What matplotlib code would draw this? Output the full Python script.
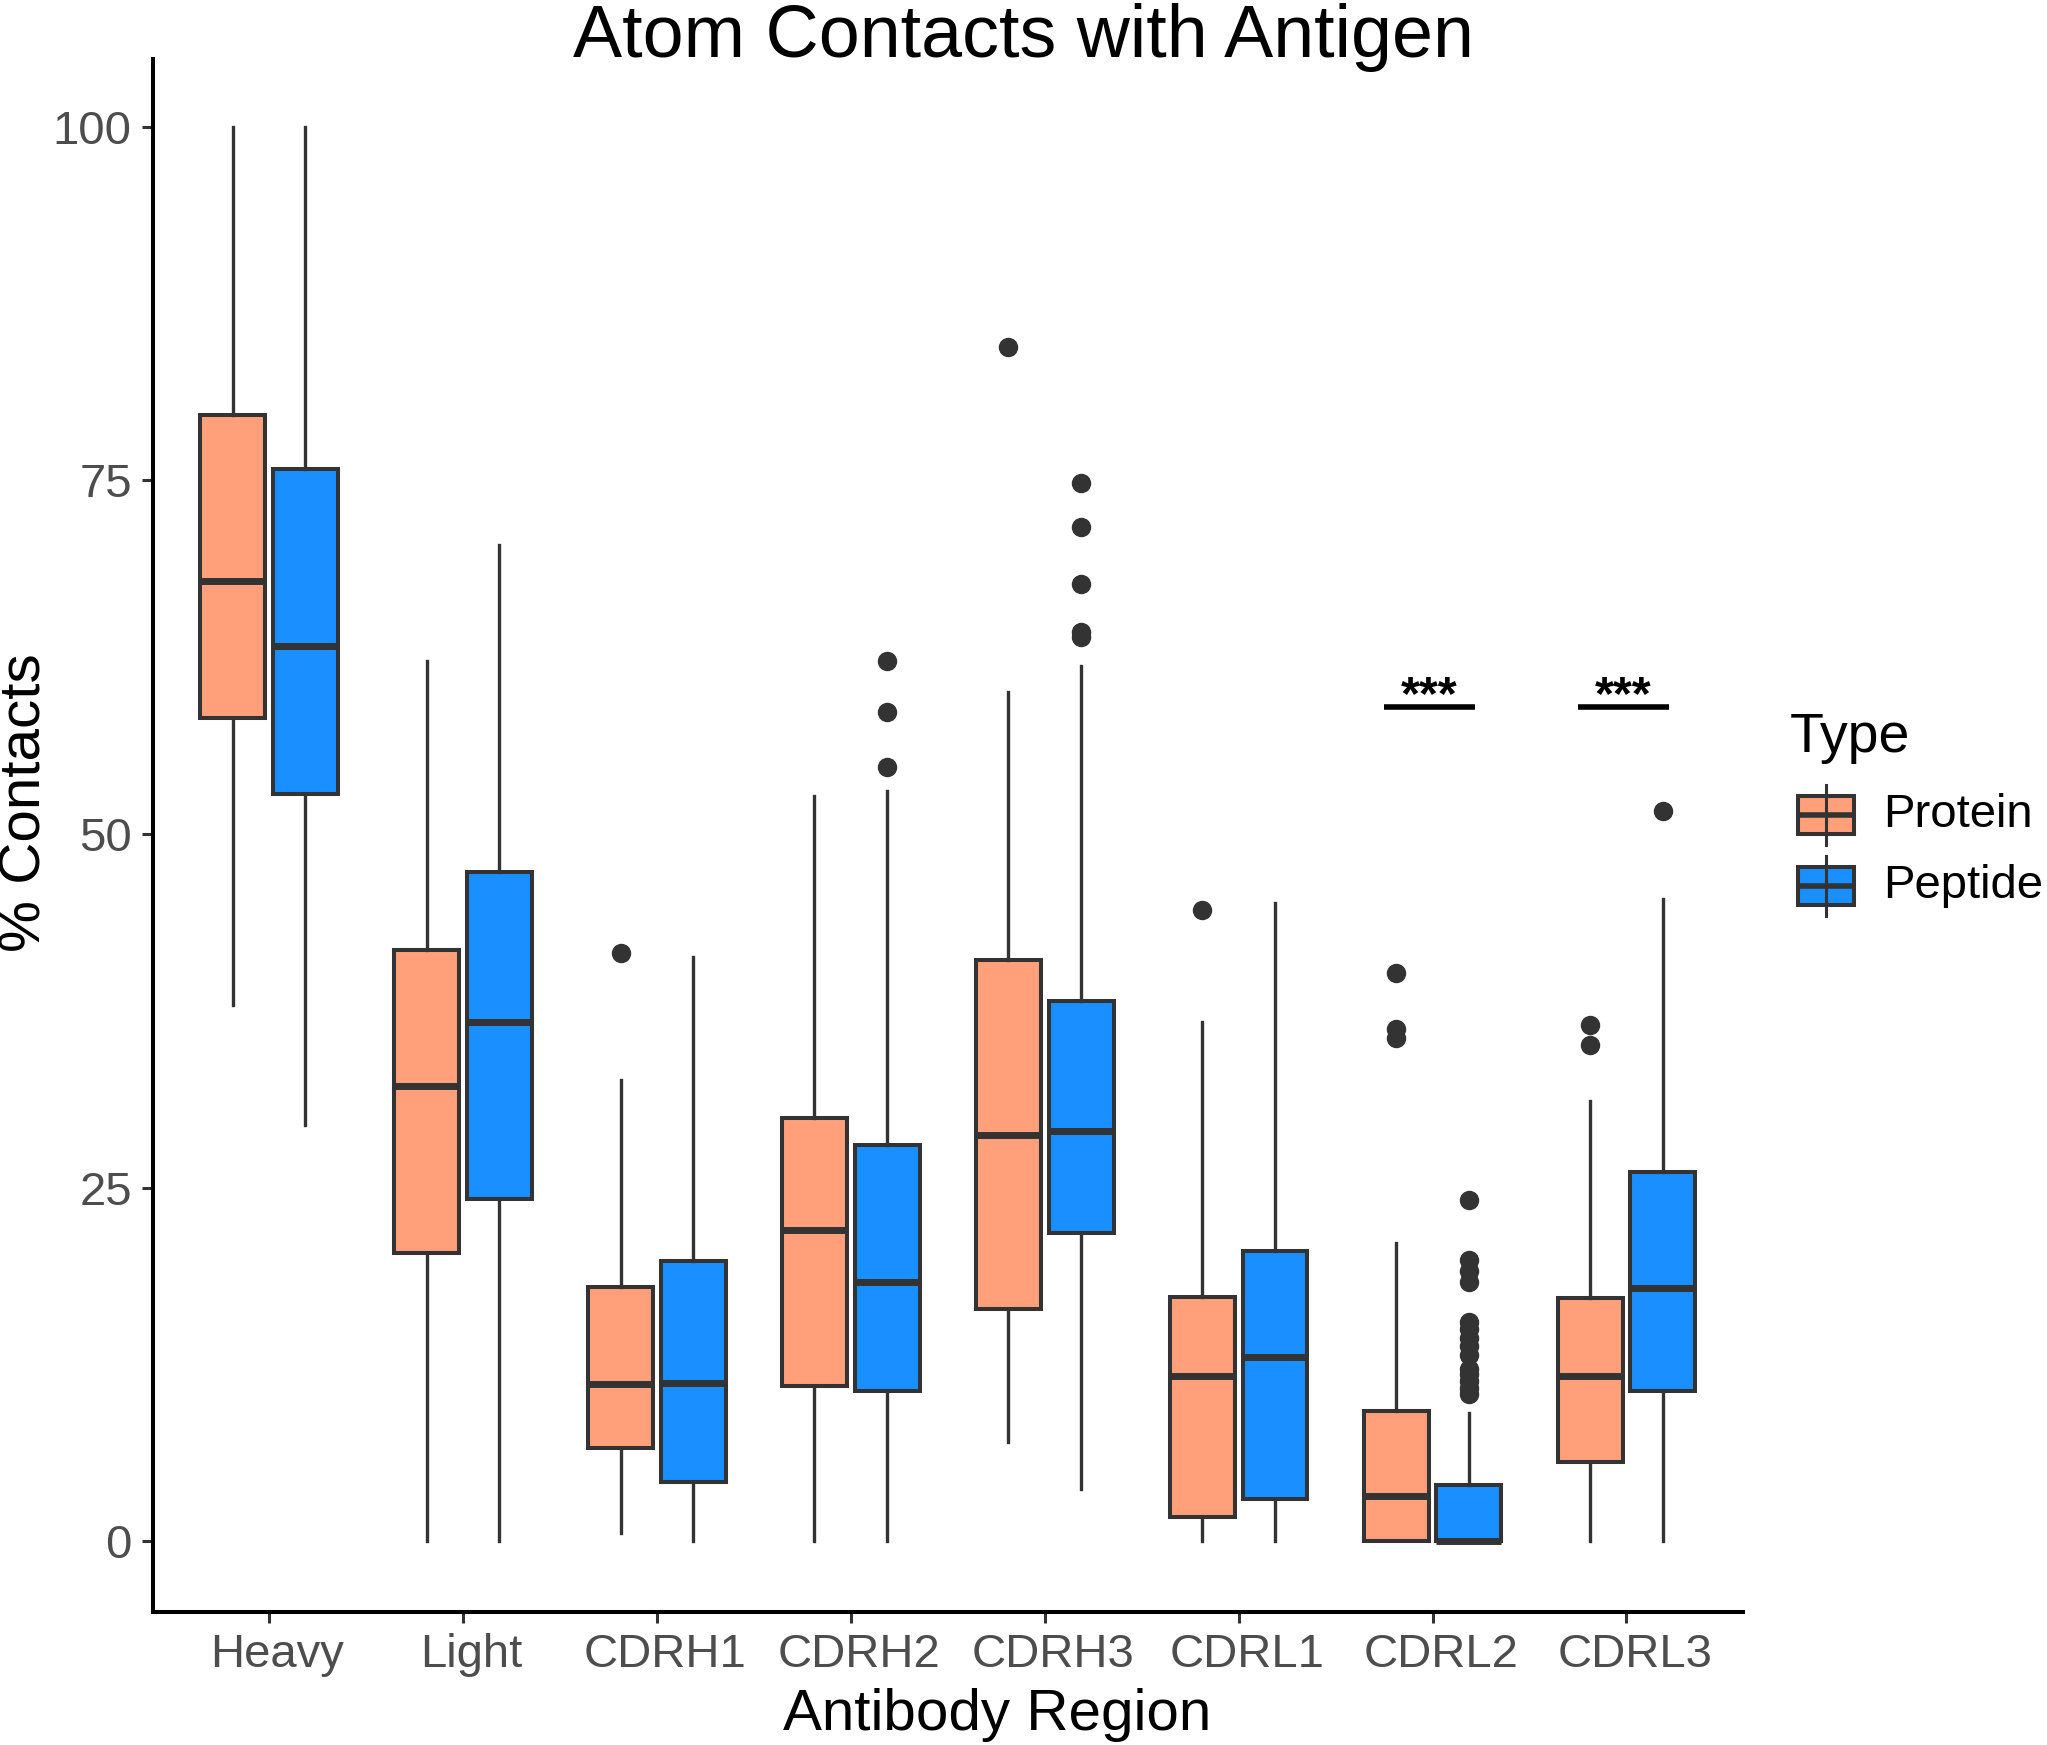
import numpy as np
import matplotlib
matplotlib.use('Agg')
import matplotlib.pyplot as plt
from matplotlib.patches import Rectangle
from matplotlib.transforms import ScaledTranslation

plt.rcParams['font.family'] = ['Liberation Sans', 'DejaVu Sans']

regions = ['Heavy', 'Light', 'CDRH1', 'CDRH2', 'CDRH3', 'CDRL1', 'CDRL2', 'CDRL3']
types = ['Protein', 'Peptide']
colors = ['#FFA07A', '#1A8FFF']

# box stats (% contacts)
protein_q1 = [58.2, 20.4, 6.6, 11.0, 16.4, 1.7, 0.0, 5.6]
protein_med = [67.9, 32.2, 11.1, 22.0, 28.7, 11.7, 3.2, 11.7]
protein_q3 = [79.6, 41.8, 18.0, 29.9, 41.1, 17.3, 9.2, 17.2]
protein_lo = [37.9, 0.0, 0.6, 0.0, 7.0, 0.0, 0.0, 0.0]
protein_hi = [100.0, 62.2, 32.6, 52.7, 60.0, 36.7, 21.1, 31.1]
protein_out = [[], [], [41.6], [], [84.4], [44.6], [40.2, 36.2, 35.6], [36.5, 35.1]]

peptide_q1 = [52.8, 24.2, 4.2, 10.6, 21.8, 3.0, 0.0, 10.6]
peptide_med = [63.3, 36.7, 11.2, 18.3, 29.0, 13.0, 0.0, 17.9]
peptide_q3 = [75.8, 47.3, 19.8, 28.0, 38.2, 20.5, 4.0, 26.1]
peptide_lo = [29.4, 0.0, 0.0, 0.0, 3.7, 0.0, 0.0, 0.0]
peptide_hi = [100.0, 70.4, 41.3, 53.0, 61.9, 45.1, 9.1, 45.4]
peptide_out = [[], [], [], [62.2, 58.6, 54.7], [74.8, 71.7, 67.7, 64.3, 63.9], [],
               [24.1, 19.9, 19.1, 18.3, 15.5, 15.0, 14.4, 13.8, 13.2, 12.2, 11.8, 11.3, 10.8, 10.4],
               [51.6]]

# significance annotations
sig_regions = ['CDRL2', 'CDRL3']
sig_y = [59.0, 59.0]
sig_label = '***'


def make_stats(q1, med, q3, lo, hi, out):
    return [dict(q1=a, med=b, q3=c, whislo=d, whishi=e, fliers=f)
            for a, b, c, d, e, f in zip(q1, med, q3, lo, hi, out)]


all_stats = [make_stats(protein_q1, protein_med, protein_q3, protein_lo, protein_hi, protein_out),
             make_stats(peptide_q1, peptide_med, peptide_q3, peptide_lo, peptide_hi, peptide_out)]

W, H = 2047, 1745
fig = plt.figure(figsize=(W / 100, H / 100), dpi=100)
ax = fig.add_axes([152.7 / W, 1 - 1612 / H, (1742.8 - 152.7) / W, (1612 - 58.7) / H])

x = np.arange(1, len(regions) + 1)
offsets = [-0.1875, 0.1875]
ink = '#333333'
for st, off, col in zip(all_stats, offsets, colors):
    ax.bxp(st, positions=x + off, widths=0.335, patch_artist=True, showcaps=False,
           manage_ticks=False,
           boxprops=dict(facecolor=col, edgecolor=ink, linewidth=2.9),
           medianprops=dict(color=ink, linewidth=5, solid_capstyle='butt'),
           whiskerprops=dict(color=ink, linewidth=2.4),
           flierprops=dict(marker='o', markerfacecolor=ink, markeredgecolor=ink, markersize=13))

for reg, yv in zip(sig_regions, sig_y):
    i = regions.index(reg) + 1
    ax.plot([i - 0.25, i + 0.22], [yv, yv], color='black', lw=4, solid_capstyle='butt')
    ax.text(i - 0.015, yv - 0.2, sig_label, ha='center', va='baseline', fontsize=35,
            fontweight='bold', color='black')

ax.set_xlim(0.4, 8.6)
ax.set_ylim(-5, 104.8)
ax.set_xticks(x)
ax.set_xticklabels(regions)
ax.set_yticks([0, 25, 50, 75, 100])
for s in ['top', 'right']:
    ax.spines[s].set_visible(False)
for s in ['left', 'bottom']:
    ax.spines[s].set_linewidth(2.9)
    ax.spines[s].set_color('black')
ax.tick_params(length=8, width=2.2, color=ink, labelsize=34, labelcolor='#4D4D4D', pad=7)
shift = ScaledTranslation(6 / 72, 0, fig.dpi_scale_trans)
for lab in ax.get_xticklabels():
    lab.set_transform(lab.get_transform() + shift)

fig.text(0.5, 1 - 57 / H, 'Atom Contacts with Antigen', ha='center', va='baseline', fontsize=53)
fig.text(997 / W, 1 - 1730 / H, 'Antibody Region', ha='center', va='baseline', fontsize=42)
fig.text(26 / W, 1 - 803 / H, '% Contacts', rotation=90, ha='center', va='center', fontsize=42)

# legend drawn in a pixel overlay
lax = fig.add_axes([0, 0, 1, 1], facecolor='none')
lax.set_xlim(0, W)
lax.set_ylim(H, 0)
lax.axis('off')
lax.text(1790, 752, 'Type', ha='left', va='baseline', fontsize=40)
for k, (name, col) in enumerate(zip(types, colors)):
    cy = 815 + k * 70.5
    lax.plot([1826, 1826], [cy - 30, cy + 30], color=ink, lw=2.2)
    lax.add_patch(Rectangle((1798, cy - 19), 56, 38, facecolor=col, edgecolor=ink, lw=2.9))
    lax.plot([1798, 1854], [cy, cy], color=ink, lw=4, solid_capstyle='butt')
    lax.text(1883, cy, name, ha='left', va='center', fontsize=34)

fig.savefig('out.png', dpi=100)
